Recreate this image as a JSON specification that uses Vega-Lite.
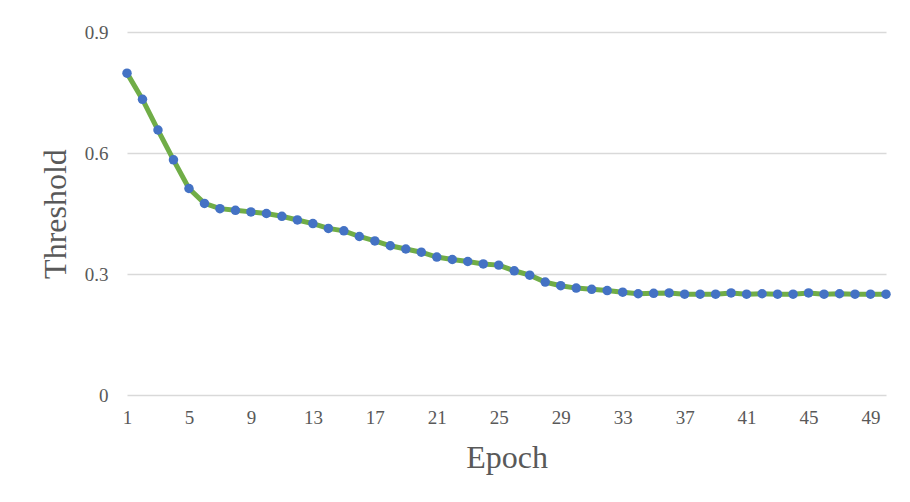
{
  "$schema": "https://vega.github.io/schema/vega-lite/v6.json",
  "width": 759,
  "height": 363,
  "autosize": {"type": "none"},
  "padding": {"left": 127, "top": 32, "right": 24, "bottom": 107},
  "background": "white",
  "config": {"view": {"stroke": null}, "font": "Liberation Serif"},
  "data": {"values": [
    {"epoch": 1, "threshold": 0.798},
    {"epoch": 2, "threshold": 0.733},
    {"epoch": 3, "threshold": 0.657},
    {"epoch": 4, "threshold": 0.583},
    {"epoch": 5, "threshold": 0.512},
    {"epoch": 6, "threshold": 0.475},
    {"epoch": 7, "threshold": 0.462},
    {"epoch": 8, "threshold": 0.458},
    {"epoch": 9, "threshold": 0.454},
    {"epoch": 10, "threshold": 0.450},
    {"epoch": 11, "threshold": 0.443},
    {"epoch": 12, "threshold": 0.434},
    {"epoch": 13, "threshold": 0.425},
    {"epoch": 14, "threshold": 0.413},
    {"epoch": 15, "threshold": 0.407},
    {"epoch": 16, "threshold": 0.393},
    {"epoch": 17, "threshold": 0.382},
    {"epoch": 18, "threshold": 0.370},
    {"epoch": 19, "threshold": 0.362},
    {"epoch": 20, "threshold": 0.354},
    {"epoch": 21, "threshold": 0.342},
    {"epoch": 22, "threshold": 0.336},
    {"epoch": 23, "threshold": 0.331},
    {"epoch": 24, "threshold": 0.325},
    {"epoch": 25, "threshold": 0.322},
    {"epoch": 26, "threshold": 0.308},
    {"epoch": 27, "threshold": 0.297},
    {"epoch": 28, "threshold": 0.280},
    {"epoch": 29, "threshold": 0.271},
    {"epoch": 30, "threshold": 0.265},
    {"epoch": 31, "threshold": 0.262},
    {"epoch": 32, "threshold": 0.259},
    {"epoch": 33, "threshold": 0.255},
    {"epoch": 34, "threshold": 0.251},
    {"epoch": 35, "threshold": 0.252},
    {"epoch": 36, "threshold": 0.253},
    {"epoch": 37, "threshold": 0.250},
    {"epoch": 38, "threshold": 0.250},
    {"epoch": 39, "threshold": 0.250},
    {"epoch": 40, "threshold": 0.253},
    {"epoch": 41, "threshold": 0.250},
    {"epoch": 42, "threshold": 0.251},
    {"epoch": 43, "threshold": 0.250},
    {"epoch": 44, "threshold": 0.250},
    {"epoch": 45, "threshold": 0.253},
    {"epoch": 46, "threshold": 0.250},
    {"epoch": 47, "threshold": 0.251},
    {"epoch": 48, "threshold": 0.250},
    {"epoch": 49, "threshold": 0.250},
    {"epoch": 50, "threshold": 0.250}
  ]},
  "encoding": {
    "x": {
      "field": "epoch", "type": "quantitative",
      "scale": {"domain": [1, 50], "nice": false, "zero": false},
      "axis": {
        "title": "Epoch", "values": [1,5,9,13,17,21,25,29,33,37,41,45,49],
        "grid": false, "domain": false, "ticks": false, "labelFlush": false,
        "labelFontSize": 19, "labelColor": "#595959", "labelPadding": 13,
        "titleFontSize": 32, "titleFontWeight": "normal", "titleColor": "#595959", "titlePadding": 15
      }
    },
    "y": {
      "field": "threshold", "type": "quantitative",
      "scale": {"domain": [0, 0.9], "nice": false},
      "axis": {
        "title": "Threshold", "values": [0, 0.3, 0.6, 0.9],
        "labelExpr": "datum.value == 0 ? '0' : format(datum.value, '.1f')",
        "grid": true, "gridColor": "#d9d9d9", "gridWidth": 1.3,
        "domain": false, "ticks": false,
        "labelFontSize": 19, "labelColor": "#595959", "labelPadding": 19,
        "titleFontSize": 32, "titleFontWeight": "normal", "titleColor": "#595959", "titlePadding": 12
      }
    }
  },
  "layer": [
    {"mark": {"type": "line", "color": "#70ad47", "strokeWidth": 5}},
    {"mark": {"type": "point", "filled": true, "color": "#4472c4", "opacity": 1, "size": 90}}
  ]
}
